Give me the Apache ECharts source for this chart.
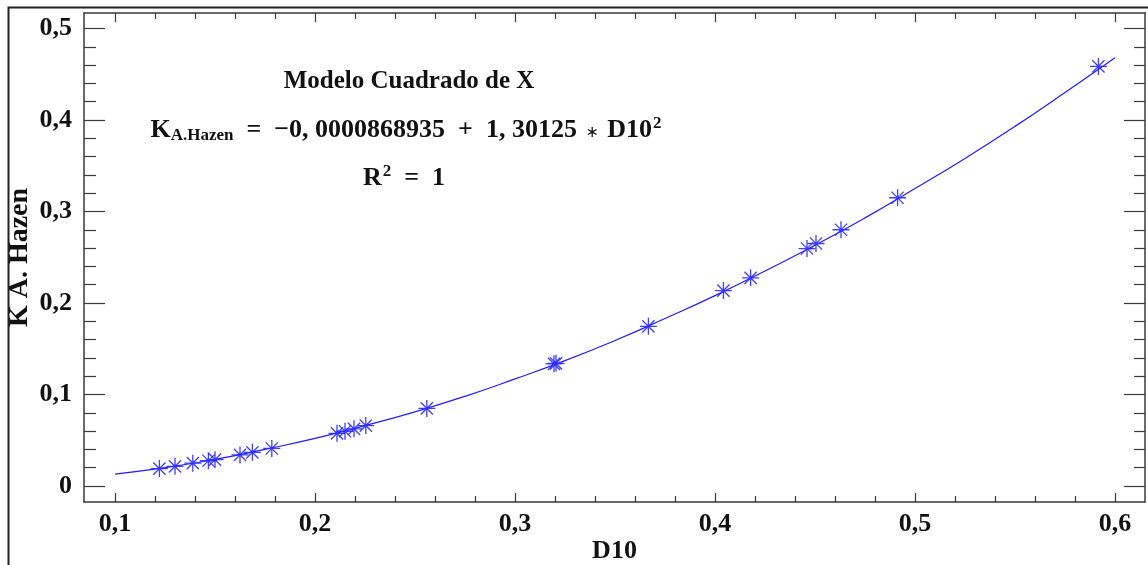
<!DOCTYPE html>
<html>
<head>
<meta charset="utf-8">
<script src="https://cdn.jsdelivr.net/npm/echarts@6/dist/echarts.min.js"></script>
<style>
html,body{margin:0;padding:0;background:#fff;}
#chart{width:1148px;height:565px;}
</style>
</head>
<body>
<div id="chart"></div>
<script>
// Observed data points (D10, K A. Hazen)
const obsD10 = [0.1222, 0.1300, 0.1389, 0.1467, 0.1500, 0.1625, 0.1687, 0.1784, 0.2110, 0.2150, 0.2195, 0.2254, 0.2559, 0.3195, 0.3205, 0.3667, 0.4042, 0.4178, 0.4460, 0.4505, 0.4630, 0.4913, 0.5917];
const obsK   = [0.0190, 0.0215, 0.0249, 0.0276, 0.0288, 0.0340, 0.0368, 0.0410, 0.0575, 0.0598, 0.0625, 0.0660, 0.0848, 0.1335, 0.1340, 0.1745, 0.2135, 0.2275, 0.2595, 0.2650, 0.2800, 0.3150, 0.4585];
// Fitted curve
const fitD10 = [0.100, 0.125, 0.150, 0.175, 0.200, 0.225, 0.250, 0.275, 0.300, 0.325, 0.350, 0.375, 0.400, 0.425, 0.450, 0.475, 0.500, 0.525, 0.550, 0.575, 0.600];
const fitK   = [0.013, 0.020, 0.029, 0.040, 0.052, 0.066, 0.081, 0.098, 0.117, 0.137, 0.159, 0.183, 0.208, 0.235, 0.263, 0.293, 0.325, 0.358, 0.393, 0.430, 0.468];
// Tick values
const xMajorTicks = [0.1, 0.2, 0.3, 0.4, 0.5, 0.6];
const xMinorTicks = [0.12, 0.14, 0.16, 0.18, 0.22, 0.24, 0.26, 0.28, 0.32, 0.34, 0.36, 0.38, 0.42, 0.44, 0.46, 0.48, 0.52, 0.54, 0.56, 0.58];
const yMajorTicks = [0, 0.1, 0.2, 0.3, 0.4, 0.5];
const yMinorTicks = [0.02, 0.04, 0.06, 0.08, 0.12, 0.14, 0.16, 0.18, 0.22, 0.24, 0.26, 0.28, 0.32, 0.34, 0.36, 0.38, 0.42, 0.44, 0.46, 0.48];

const xRange = [0.0845, 0.615];
const yRange = [-0.0175, 0.5169];

const serif = '"Liberation Serif", "Times New Roman", serif';
const axisColor = '#3a3a3a';
const fmt = v => (v === 0 ? '0' : String(+v.toFixed(2)).replace('.', ','));

function mkX(pos, ticks, len, showLine, showLabel, extra) {
  return Object.assign({
    type: 'value', position: pos, min: xRange[0], max: xRange[1], gridIndex: 0,
    axisLine: { show: showLine, onZero: false, lineStyle: { color: axisColor, width: 1.5 } },
    axisTick: { show: true, inside: true, length: len, customValues: ticks, lineStyle: { color: axisColor, width: 1.2 } },
    axisLabel: { show: showLabel, customValues: ticks, formatter: fmt, margin: 9,
      fontFamily: serif, fontWeight: 'bold', fontSize: 26, color: '#111' },
    splitLine: { show: false }
  }, extra || {});
}
function mkY(pos, ticks, len, showLine, showLabel, extra) {
  return Object.assign({
    type: 'value', position: pos, min: yRange[0], max: yRange[1], gridIndex: 0,
    axisLine: { show: showLine, onZero: false, lineStyle: { color: axisColor, width: 1.5 } },
    axisTick: { show: true, inside: true, length: len, customValues: ticks, lineStyle: { color: axisColor, width: 1.2 } },
    axisLabel: { show: showLabel, customValues: ticks, formatter: fmt, margin: 12,
      fontFamily: serif, fontWeight: 'bold', fontSize: 26, color: '#111' },
    splitLine: { show: false }
  }, extra || {});
}

const chart = echarts.init(document.getElementById('chart'), null, { renderer: 'canvas' });
const star = 'path://M0,-1L0,1M-1,0L1,0M-0.72,-0.72L0.72,0.72M-0.72,0.72L0.72,-0.72';

const eqStyle = { fontFamily: serif, fontWeight: 'bold', fontSize: 26, fill: '#111' };
const subStyle = { fontFamily: serif, fontWeight: 'bold', fontSize: 17, fill: '#111' };

chart.setOption({
  animation: false,
  backgroundColor: '#fff',
  grid: { left: 84, right: 3, top: 13, bottom: 63, containLabel: false, outerBoundsMode: 'none' },
  xAxis: [
    mkX('bottom', xMajorTicks, 9, true, true, {
      name: 'D10', nameLocation: 'middle', nameGap: 36, nameMoveOverlap: false,
      nameTextStyle: { fontFamily: serif, fontWeight: 'bold', fontSize: 26, color: '#111' }
    }),
    mkX('bottom', xMinorTicks, 6, false, false),
    mkX('top', xMajorTicks, 9, true, false),
    mkX('top', xMinorTicks, 6, false, false)
  ],
  yAxis: [
    mkY('left', yMajorTicks, 21, true, true, {
      name: 'K A. Hazen', nameLocation: 'middle', nameGap: 50, nameMoveOverlap: false,
      nameTextStyle: { fontFamily: serif, fontWeight: 'bold', fontSize: 28, color: '#111' }
    }),
    mkY('left', yMinorTicks, 12, false, false),
    mkY('right', yMajorTicks, 21, true, false),
    mkY('right', yMinorTicks, 11, false, false)
  ],
  graphic: [
    { type: 'rect', left: 6, top: 5, shape: { width: 1170, height: 600 },
      style: { fill: 'none', stroke: '#222', lineWidth: 2 }, silent: true, z: 100 },
    { type: 'text', x: 409, y: 82, style: { text: 'Modelo Cuadrado de X', fontFamily: serif, fontWeight: 'bold', fontSize: 25, fill: '#111', align: 'center', verticalAlign: 'middle' } },
    { type: 'text', x: 406, y: 130, style: {
        text: '{k|K}{s|A.Hazen}{m|  =  −0, 0000868935  +  1, 30125 }{a|∗}{m| D10}{p|2}',
        align: 'center', verticalAlign: 'middle',
        rich: {
          k: eqStyle,
          s: Object.assign({ padding: [12, 0, 0, 0] }, subStyle),
          m: eqStyle,
          a: { fontFamily: 'DejaVu Sans', fontSize: 16, fill: '#111', padding: [6, 2, 0, 2] },
          p: Object.assign({ padding: [0, 0, 12, 1] }, subStyle)
        } } },
    { type: 'text', x: 404, y: 178, style: {
        text: '{m|R}{p|2}{m|  =  1}', align: 'center', verticalAlign: 'middle',
        rich: {
          m: eqStyle,
          p: Object.assign({ padding: [0, 0, 12, 1] }, subStyle)
        } } }
  ],
  series: [
    {
      type: 'line', xAxisIndex: 0, yAxisIndex: 0,
      data: fitD10.map((x, i) => [x, fitK[i]]),
      smooth: true, showSymbol: false, symbol: 'none',
      lineStyle: { color: '#1f1fff', width: 1.2 }, z: 2
    },
    {
      type: 'scatter', xAxisIndex: 0, yAxisIndex: 0,
      data: obsD10.map((x, i) => [x, obsK[i]]),
      symbol: star, symbolSize: 17,
      itemStyle: { color: '#2a2aff', borderColor: '#2a2aff', borderWidth: 1.3, opacity: 0.9 },
      z: 3
    }
  ]
});
</script>
</body>
</html>
